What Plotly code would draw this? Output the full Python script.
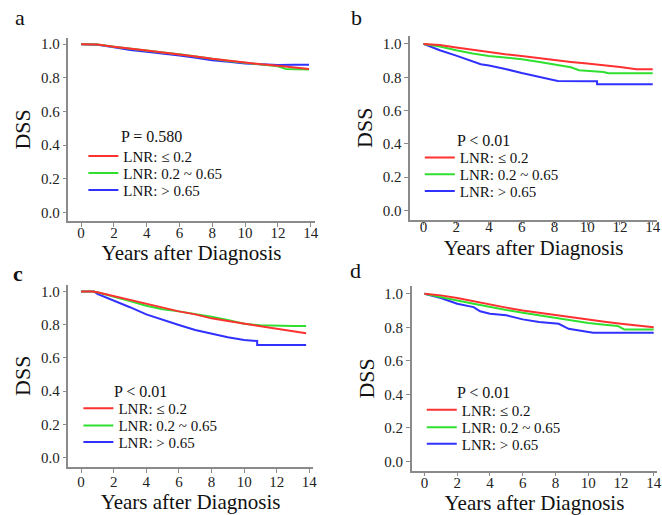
import plotly.graph_objects as go

# ---------------- data ----------------
group_labels = ["LNR: ≤ 0.2", "LNR: 0.2 ~ 0.65", "LNR: > 0.65"]
panel_letters = ["a", "b", "<b>c</b>", "d"]
p_texts = ["P = 0.580", "P < 0.01", "P < 0.01", "P < 0.01"]
x_ticks = [0, 2, 4, 6, 8, 10, 12, 14]
y_ticks = [0.0, 0.2, 0.4, 0.6, 0.8, 1.0]

# panel a
a_red_t = [0, 1, 2, 3, 4, 5, 6, 7, 8, 9, 10, 11, 12, 13, 13.9]
a_red_s = [1.0, 0.998, 0.985, 0.972, 0.962, 0.951, 0.94, 0.927, 0.913, 0.901, 0.89, 0.88, 0.872, 0.862, 0.853]
a_green_t = [0, 1, 2, 3, 4, 5, 6, 7, 8, 9, 10, 11, 12, 12.5, 13.9]
a_green_s = [1.0, 0.998, 0.985, 0.972, 0.96, 0.95, 0.94, 0.926, 0.912, 0.9, 0.89, 0.88, 0.868, 0.852, 0.85]
a_blue_t = [0, 1, 2, 3, 4, 5, 6, 7, 8, 9, 10, 11, 12, 13, 13.9]
a_blue_s = [1.0, 0.997, 0.982, 0.965, 0.955, 0.945, 0.933, 0.92, 0.905, 0.895, 0.885, 0.88, 0.876, 0.878, 0.878]

# panel b
b_red_t = [0, 1, 2, 3, 4, 5, 6, 7, 8, 9, 10, 11, 12, 13, 14]
b_red_s = [1.0, 0.993, 0.978, 0.964, 0.948, 0.938, 0.928, 0.915, 0.902, 0.892, 0.882, 0.873, 0.862, 0.848, 0.848]
b_green_t = [0, 1, 2, 3, 4, 5, 6, 7, 8, 9, 9.5, 10, 11, 11.3, 14]
b_green_s = [1.0, 0.985, 0.962, 0.942, 0.928, 0.918, 0.908, 0.893, 0.878, 0.86, 0.842, 0.838, 0.832, 0.824, 0.824]
b_blue_t = [0, 1, 2, 3, 3.5, 4, 5, 6, 7, 8, 8.2, 10.6, 10.6, 14]
b_blue_s = [1.0, 0.962, 0.93, 0.895, 0.878, 0.87, 0.85, 0.825, 0.803, 0.785, 0.778, 0.776, 0.758, 0.758]

# panel c
c_red_t = [0, 0.7, 1, 2, 3, 4, 5, 6, 7, 8, 9, 10, 11, 12, 13, 13.8]
c_red_s = [1.0, 1.0, 0.995, 0.972, 0.946, 0.922, 0.9, 0.88, 0.862, 0.838, 0.822, 0.806, 0.792, 0.778, 0.762, 0.748]
c_green_t = [0, 0.7, 1, 2, 3, 4, 5, 6, 7, 8, 9, 10, 11, 12, 13, 13.8]
c_green_s = [1.0, 1.0, 0.995, 0.97, 0.942, 0.914, 0.893, 0.88, 0.865, 0.848, 0.828, 0.806, 0.796, 0.792, 0.792, 0.792]
c_blue_t = [0, 0.8, 1, 2, 3, 4, 5, 6, 7, 8, 9, 10, 10.8, 10.8, 13.8]
c_blue_s = [1.0, 1.0, 0.985, 0.946, 0.905, 0.862, 0.828, 0.798, 0.768, 0.745, 0.725, 0.708, 0.702, 0.678, 0.678]

# panel d
d_red_t = [0, 1, 2, 3, 4, 5, 6, 7, 8, 9, 10, 11, 12, 13, 14]
d_red_s = [1.0, 0.99, 0.974, 0.954, 0.934, 0.917, 0.9, 0.886, 0.871, 0.857, 0.845, 0.833, 0.821, 0.81, 0.8]
d_green_t = [0, 1, 2, 3, 4, 5, 6, 7, 8, 9, 10, 11, 11.8, 12.2, 14]
d_green_s = [1.0, 0.982, 0.96, 0.94, 0.92, 0.903, 0.887, 0.871, 0.855, 0.84, 0.825, 0.815, 0.808, 0.787, 0.787]
d_blue_t = [0, 1, 2, 3, 3.4, 4, 5, 6, 7, 8.2, 8.8, 10, 10.3, 14]
d_blue_s = [1.0, 0.974, 0.94, 0.92, 0.895, 0.881, 0.871, 0.847, 0.831, 0.821, 0.791, 0.775, 0.768, 0.768]

panels = [
    [(a_red_t, a_red_s), (a_green_t, a_green_s), (a_blue_t, a_blue_s)],
    [(b_red_t, b_red_s), (b_green_t, b_green_s), (b_blue_t, b_blue_s)],
    [(c_red_t, c_red_s), (c_green_t, c_green_s), (c_blue_t, c_blue_s)],
    [(d_red_t, d_red_s), (d_green_t, d_green_s), (d_blue_t, d_blue_s)],
]

# ---------------- layout geometry ----------------
W, H = 662, 515
colors = ["#ff3030", "#30e030", "#3030ff"]
FONT = "Liberation Serif, DejaVu Serif, Times New Roman, serif"
draw_order = [2, 1, 0]  # blue first, red on top

# (x0px, x1px, ytop_px, ybot_px, xrange, yrange)
geom = [
    (69, 317, 36.7, 220.5, [-0.77, 14.24], [-0.052, 1.039]),
    (413.3, 662, 35, 219, [-0.81, 14.26], [-0.054, 1.048]),
    (69, 315, 284.3, 466.7, [-0.77, 14.2], [-0.054, 1.04]),
    (415, 662, 285.7, 470.5, [-0.77, 14.2], [-0.054, 1.045]),
]
xlab_standoff = [-7, -11, -4, -6]
xtitle_standoff = [2, 6, 0, 2]
legend_x = [84, 423, 79, 425]
legend_rows = [(155, 172, 189), (156.5, 173.3, 190), (407.7, 425, 441.7), (409.3, 426.7, 443.3)]
ROW_OFFSET = 16
p_pos = [(120, 136), (458, 140), (113, 391), (458, 392)]
letter_pos = [(20, 17), (359, 17), (18, 273), (358, 270)]

fig = go.Figure()
layout = dict(
    width=W, height=H,
    margin=dict(l=0, r=0, t=0, b=0),
    paper_bgcolor="white", plot_bgcolor="white",
    font=dict(family=FONT, color="#222"),
    showlegend=True,
    annotations=[],
)

for i, series in enumerate(panels):
    k = "" if i == 0 else str(i + 1)
    for j in draw_order:
        t, s = series[j]
        n = i * 3 + j + 1
        leg = "legend" if n == 1 else f"legend{n}"
        fig.add_trace(go.Scatter(
            x=t, y=s, mode="lines", name=group_labels[j],
            line=dict(color=colors[j], width=2),
            xaxis="x" + k, yaxis="y" + k, legend=leg,
            showlegend=True, hoverinfo="skip",
        ))
        layout[leg] = dict(
            x=legend_x[i] / W, y=1 - (legend_rows[i][j] - ROW_OFFSET) / H,
            xanchor="left", yanchor="top",
            bgcolor="rgba(0,0,0,0)", borderwidth=0,
            font=dict(family=FONT, size=15, color="#111"),
            itemwidth=30, visible=True,
        )
    x0, x1, yt, yb, xr, yr = geom[i]
    axcommon = dict(
        showline=True, linecolor="#8a8a8a", linewidth=1.5,
        ticks="outside", ticklen=4, tickwidth=1.2, tickcolor="#8a8a8a",
        tickfont=dict(family=FONT, size=15, color="#222"),
        showgrid=False, zeroline=False, mirror=False,
        ticklabeloverflow="allow",
    )
    layout["xaxis" + k] = dict(
        axcommon, domain=[x0 / W, x1 / W], range=xr, tickvals=x_ticks,
        anchor="y" + k, ticklabelstandoff=xlab_standoff[i],
        title=dict(text="Years after Diagnosis", font=dict(family=FONT, size=21, color="#111"),
                   standoff=xtitle_standoff[i]),
    )
    layout["yaxis" + k] = dict(
        axcommon, domain=[1 - yb / H, 1 - yt / H], range=yr, tickvals=y_ticks,
        tickformat=".1f", anchor="x" + k,
        title=dict(text="DSS", font=dict(family=FONT, size=22, color="#111"), standoff=4),
    )
    px, py = p_pos[i]
    layout["annotations"].append(dict(
        x=px / W, y=1 - py / H, xref="paper", yref="paper",
        xanchor="left", yanchor="middle", showarrow=False,
        text=p_texts[i], font=dict(family=FONT, size=16, color="#111"),
    ))
    lx2, ly2 = letter_pos[i]
    layout["annotations"].append(dict(
        x=lx2 / W, y=1 - ly2 / H, xref="paper", yref="paper",
        xanchor="center", yanchor="middle", showarrow=False,
        text=panel_letters[i], font=dict(family=FONT, size=22, color="#111"),
    ))

fig.update_layout(**layout)
fig.write_html("out.html", config={"displayModeBar": False},
               post_script="document.body.style.margin='0';document.body.style.overflow='hidden';")
